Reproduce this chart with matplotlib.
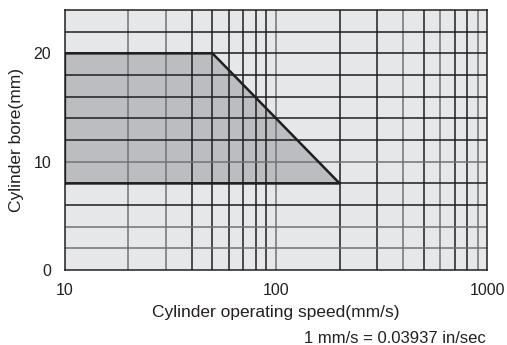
import numpy as np
import matplotlib.pyplot as plt
from matplotlib.ticker import FixedLocator, NullFormatter

plt.rcParams['font.family'] = ['Liberation Sans', 'DejaVu Sans']

# operating range (speed mm/s, bore mm)
speed = [10, 10, 50, 200]
bore = [8, 20, 20, 8]

x_ticks = [10, 100, 1000]
x_tick_labels = ['10', '100', '1000']
y_ticks = [0, 10, 20]
y_tick_labels = ['0', '10', '20']
x_grid = [20, 30, 40, 50, 60, 70, 80, 90, 100, 200, 300, 400, 500, 600, 700, 800, 900]
y_grid = [2, 4, 6, 8, 10, 12, 14, 16, 18, 20, 22]

DARK = '#1f1f21'
GREY = '#717274'
# the print has some lines lighter than others
x_grey = {20, 30, 100, 400, 600, 900}
y_grey = {2, 4, 10}

fig = plt.figure(figsize=(5.07, 3.45), dpi=100)
ax = fig.add_axes([0.128, 0.217, 0.833, 0.754])
ax.set_facecolor('#e6e7e8')
ax.set_xscale('log')
ax.set_xlim(10, 1000)
ax.set_ylim(0, 24)

for v in x_grid:
    ax.axvline(v, color=GREY if v in x_grey else DARK, lw=1.1, zorder=1)
for v in y_grid:
    ax.axhline(v, color=GREY if v in y_grey else DARK, lw=1.1, zorder=1)

ax.fill(speed, bore, facecolor='#bcbdc0', edgecolor='none', zorder=0.5)
ax.plot(speed + [speed[0]], bore + [bore[0]], color=DARK, lw=1.8, zorder=3)

ax.xaxis.set_minor_locator(FixedLocator(x_grid))
ax.xaxis.set_minor_formatter(NullFormatter())
ax.set_xticks(x_ticks, x_tick_labels)
ax.set_yticks(y_ticks, y_tick_labels)
ax.tick_params(which='both', length=0, labelsize=11.5, colors='#231f20')
ax.tick_params(axis='x', pad=9)
ax.tick_params(axis='y', pad=10)
for s in ax.spines.values():
    s.set_color('#231f20')
    s.set_linewidth(1.1)

ax.set_xlabel('Cylinder operating speed(mm/s)', fontsize=12.5, color='#231f20', labelpad=5)
ax.set_ylabel('Cylinder bore(mm)', fontsize=12.5, color='#231f20', labelpad=7)
fig.text(0.959, 0.018, '1 mm/s = 0.03937 in/sec', ha='right', va='center', fontsize=12, color='#231f20')

fig.savefig('out.png', dpi=100)
